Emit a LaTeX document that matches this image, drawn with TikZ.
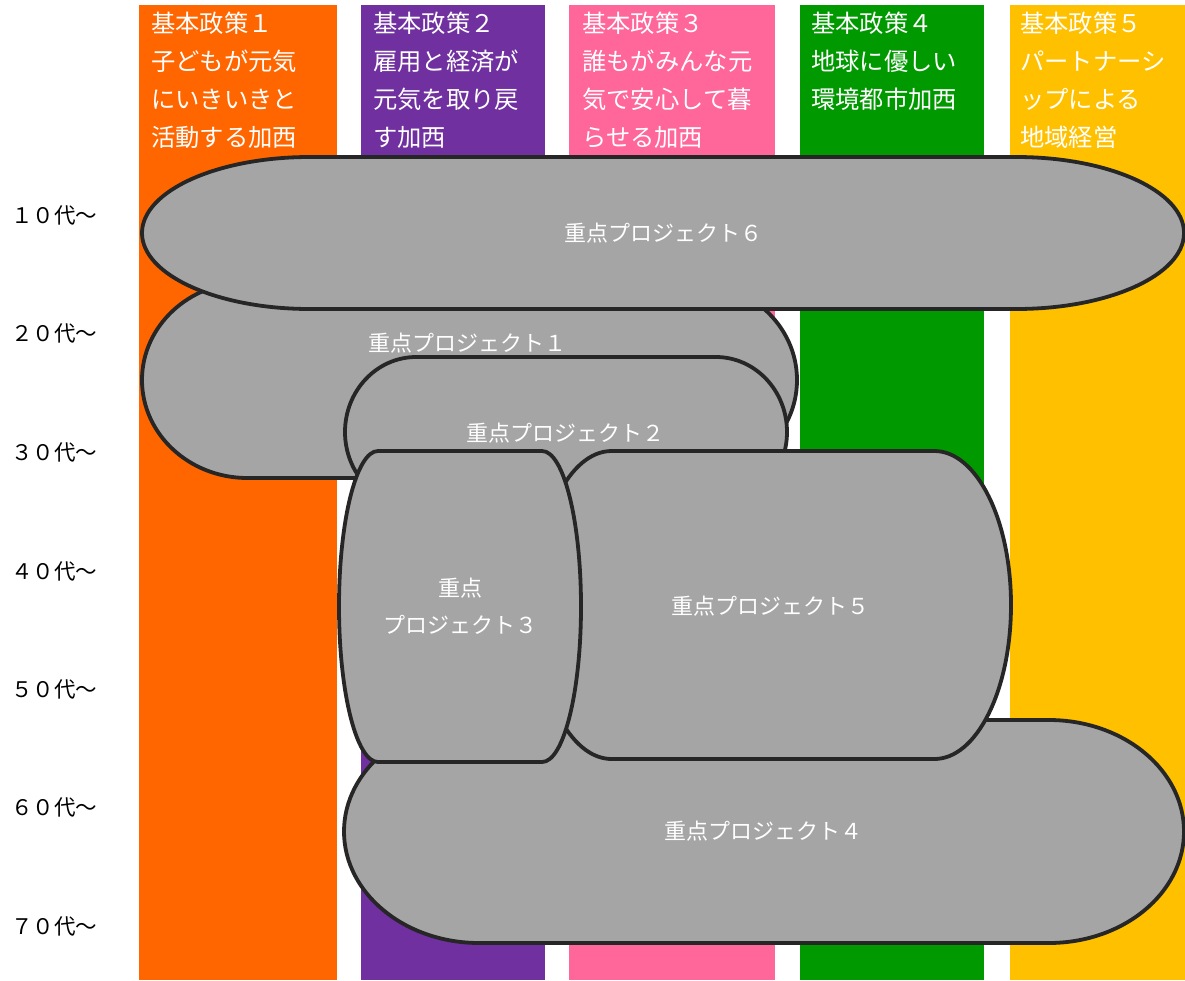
\documentclass[tikz,border=0pt]{standalone}
\usepackage{fontspec}
\newfontfamily\jp{Noto Sans CJK JP}
\definecolor{corange}{HTML}{FF6600}
\definecolor{cpurple}{HTML}{7030A0}
\definecolor{cpink}{HTML}{FF6699}
\definecolor{cgreen}{HTML}{009900}
\definecolor{cyellow}{HTML}{FFC000}
\definecolor{pfill}{HTML}{A5A5A5}
\definecolor{pline}{HTML}{262626}
\tikzset{
  col/.style={fill=#1,draw=none},
  proj/.style={fill=pfill,draw=pline,line width=3.8pt,line join=round},
  head/.style={anchor=north west,inner sep=0pt,text=white,align=left,font=\jp\fontsize{24.3}{38}\selectfont},
  plabel/.style={inner sep=0pt,text=white,align=center,font=\jp\fontsize{22}{37}\selectfont},
  age/.style={anchor=west,inner sep=0pt,text=black,font=\jp\fontsize{21.5}{25}\selectfont}
}
\newcommand\termpath[4]{%
  \pgfmathsetmacro\trx{0.161*(#3-#1)}%
  \pgfmathsetmacro\try{(#4-#2)/2}%
  \filldraw[proj] ({#1+\trx},-#2) -- ({#3-\trx},-#2)
    arc[start angle=90,end angle=-90,x radius=\trx pt,y radius=\try pt]
    -- ({#1+\trx},-#4)
    arc[start angle=270,end angle=90,x radius=\trx pt,y radius=\try pt] -- cycle;
}
\begin{document}
\begin{tikzpicture}[x=1pt,y=1pt]
\useasboundingbox (0,0) rectangle (1185,-980);
\fill[white] (0,0) rectangle (1185,-980);
% policy columns
\fill[col=corange] (139,-5) rectangle (337,-980);
\fill[col=cpurple] (361,-5) rectangle (545,-980);
\fill[col=cpink] (569,-5) rectangle (775,-980);
\fill[col=cgreen] (800,-5) rectangle (984,-980);
\fill[col=cyellow] (1010,-5) rectangle (1185,-980);
% headers
\node[head] (h1) at (151,-12) {基本政策１\\子どもが元気\\にいきいきと\\活動する加西};
\node[head] (h2) at (373,-12) {基本政策２\\雇用と経済が\\元気を取り戻\\す加西};
\node[head] (h3) at (582,-12) {基本政策３\\誰もがみんな元\\気で安心して暮\\らせる加西};
\node[head] (h4) at (811,-12) {基本政策４\\地球に優しい\\環境都市加西};
\node[head] (h5) at (1020,-12) {基本政策５\\パートナーシ\\ップによる\\地域経営};
% ages
\node[age] (a1) at (11,-215) {１０代～};
\node[age] (a2) at (11,-333) {２０代～};
\node[age] (a3) at (11,-452) {３０代～};
\node[age] (a4) at (11,-571) {４０代～};
\node[age] (a5) at (11,-689) {５０代～};
\node[age] (a6) at (11,-807) {６０代～};
\node[age] (a7) at (11,-926) {７０代～};
% projects
\termpath{142}{282}{797}{478}
\node[plabel] (p1) at (467,-343) {重点プロジェクト１};
\termpath{142}{157}{1184}{309}
\node[plabel] (p6) at (663,-233) {重点プロジェクト６};
\termpath{345}{357}{787}{507}
\node[plabel] (p2) at (565,-433) {重点プロジェクト２};
\termpath{344}{720}{1184}{943}
\node[plabel] (p4) at (763,-831) {重点プロジェクト４};
\termpath{535}{451}{1011}{759}
\node[plabel] (p5) at (770,-606) {重点プロジェクト５};
\termpath{339}{451}{581}{762}
\node[plabel] (p3) at (460,-606) {重点\\プロジェクト３};
\end{tikzpicture}
\end{document}
